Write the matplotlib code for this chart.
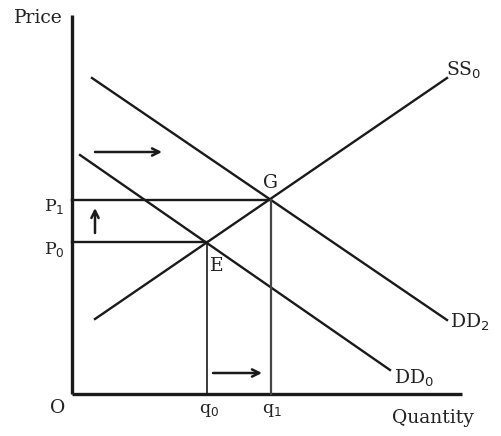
import matplotlib.pyplot as plt

# Equilibrium values
q0, p0 = 13.5, 15.2   # point E
q1, p1 = 19.9, 19.4   # point G

# Curve endpoints (quantity, price)
ss0_q = [2.3, 37.5]
ss0_p = [7.5, 31.6]
dd2_q = [2.0, 37.5]
dd2_p = [31.6, 7.4]
dd0_q = [0.8, 31.8]
dd0_p = [23.9, 2.4]

x_max, y_max = 39.0, 37.9

fig = plt.figure(figsize=(5.01, 4.36), dpi=100)
ax = fig.add_axes([0, 0, 1, 1])
ax.set_xlim(-7.2, 42.9)
ax.set_ylim(-4.2, 39.4)
ax.axis("off")

ink = "#1a1a1a"
font = dict(family="DejaVu Serif", color="#222222")

# Axes
ax.plot([0, 0], [0, y_max], color=ink, lw=2.4, solid_capstyle="butt")
ax.plot([0, x_max], [0, 0], color=ink, lw=2.4, solid_capstyle="butt")

# Supply and demand curves
ax.plot(ss0_q, ss0_p, color=ink, lw=1.7)
ax.plot(dd2_q, dd2_p, color=ink, lw=1.7)
ax.plot(dd0_q, dd0_p, color=ink, lw=1.7)

# Price and quantity guides
ax.plot([0, q1], [p1, p1], color=ink, lw=1.7)
ax.plot([0, q0], [p0, p0], color=ink, lw=1.7)
ax.plot([q0, q0], [0, p0], color=ink, lw=1.2)
ax.plot([q1, q1], [0, p1], color="#444444", lw=1.6)

# Shift arrows
arrow = dict(arrowstyle="->", color=ink, lw=1.8, mutation_scale=13, shrinkA=0, shrinkB=0)
ax.annotate("", xy=(9.0, 24.2), xytext=(2.3, 24.2), arrowprops=arrow)
ax.annotate("", xy=(2.3, 18.6), xytext=(2.3, 16.1), arrowprops=arrow)
ax.annotate("", xy=(19.0, 2.1), xytext=(14.1, 2.1), arrowprops=arrow)

# Labels
fs = 13.5
ax.text(-3.4, 37.6, "Price", fontsize=fs, ha="center", va="center", **font)
ax.text(32.0, -2.4, "Quantity", fontsize=fs, ha="left", va="center", **font)
ax.text(-1.4, -1.4, "O", fontsize=fs, ha="center", va="center", **font)
ax.text(-1.8, 18.8, "P$_1$", fontsize=fs - 1, ha="center", va="center", **font)
ax.text(-1.8, 14.5, "P$_0$", fontsize=fs - 1, ha="center", va="center", **font)
ax.text(q0 + 0.2, -1.6, "q$_0$", fontsize=fs - 1, ha="center", va="center", **font)
ax.text(q1 + 0.1, -1.6, "q$_1$", fontsize=fs - 1, ha="center", va="center", **font)
ax.text(q1 - 0.1, p1 + 1.7, "G", fontsize=fs, ha="center", va="center", **font)
ax.text(q0 + 1.0, p0 - 2.4, "E", fontsize=fs, ha="center", va="center", **font)
ax.text(37.4, 32.4, "SS$_0$", fontsize=fs, ha="left", va="center", **font)
ax.text(37.8, 7.2, "DD$_2$", fontsize=fs, ha="left", va="center", **font)
ax.text(32.2, 1.6, "DD$_0$", fontsize=fs, ha="left", va="center", **font)

fig.savefig("out.png", dpi=100)
